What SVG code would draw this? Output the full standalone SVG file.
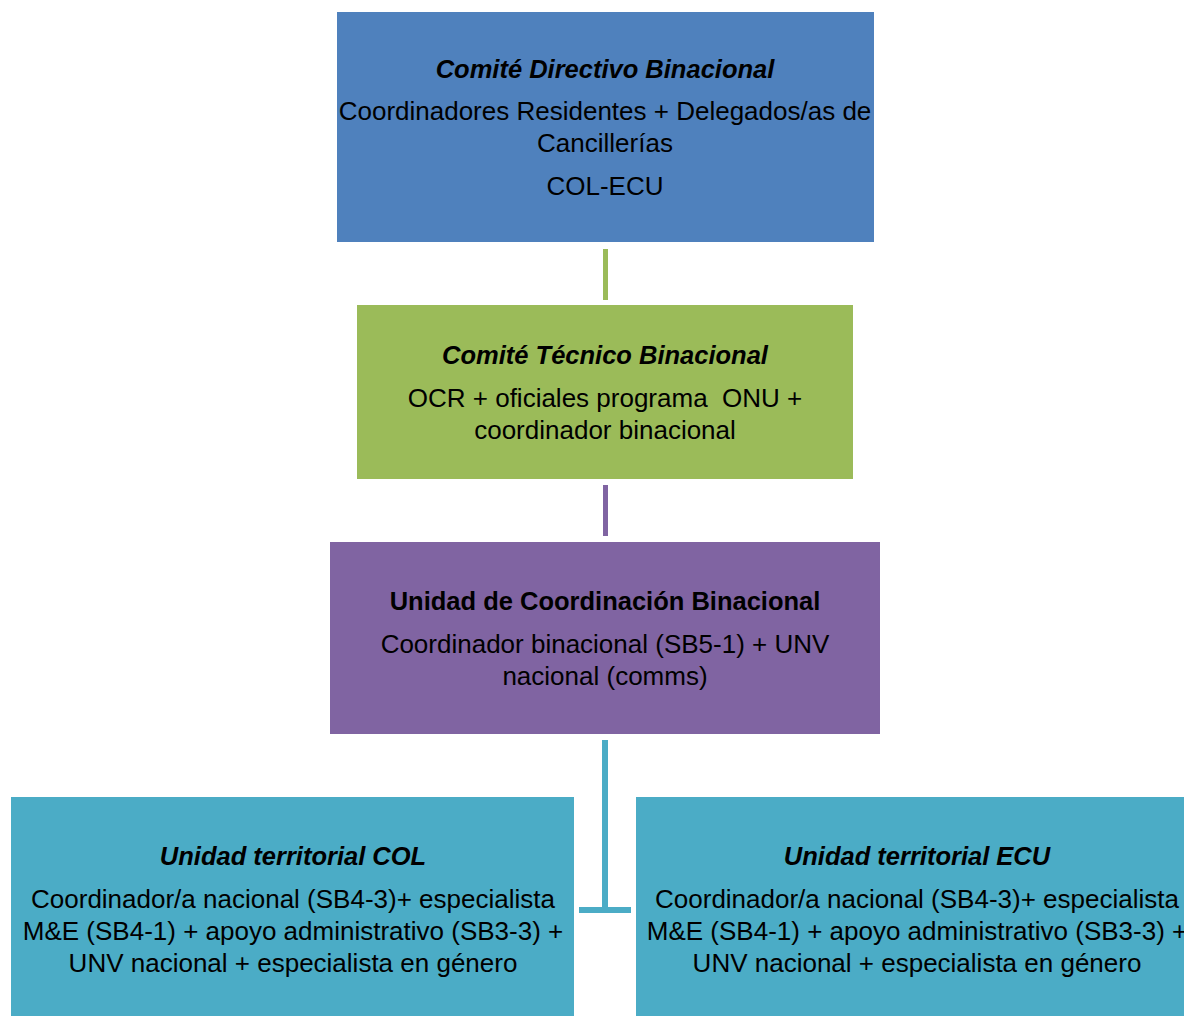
<svg xmlns="http://www.w3.org/2000/svg" width="1184" height="1016" viewBox="0 0 1184 1016">
<style>
text{font-family:"Liberation Sans",Arial,sans-serif;font-size:26px;fill:#000;text-anchor:middle}
.t{font-weight:bold;font-style:italic;font-size:25.5px}
.b{font-weight:bold;font-size:25.5px}
</style>
<rect width="1184" height="1016" fill="#fff"/>
<g id="connectors">
<rect x="603" y="249" width="5" height="51" fill="#9BBB59"/>
<rect x="603" y="485" width="5" height="51" fill="#8064A2"/>
<rect x="602" y="740" width="6" height="172" fill="#4BACC6"/>
<rect x="579" y="907" width="52" height="6" fill="#4BACC6"/>
</g>
<g id="n1">
<rect x="337" y="12" width="537" height="230" fill="#4F81BD"/>
<text x="605" y="78" class="t">Comité Directivo Binacional</text>
<text x="605" y="120">Coordinadores Residentes + Delegados/as de</text>
<text x="605" y="152">Cancillerías</text>
<text x="605" y="195">COL-ECU</text>
</g>
<g id="n2">
<rect x="357" y="305" width="496" height="174" fill="#9BBB59"/>
<text x="605" y="364" class="t">Comité Técnico Binacional</text>
<text x="605" y="407" xml:space="preserve">OCR + oficiales programa  ONU +</text>
<text x="605" y="439">coordinador binacional</text>
</g>
<g id="n3">
<rect x="330" y="542" width="550" height="192" fill="#8064A2"/>
<text x="605" y="610" class="b">Unidad de Coordinación Binacional</text>
<text x="605" y="653">Coordinador binacional (SB5-1) + UNV</text>
<text x="605" y="685">nacional (comms)</text>
</g>
<g id="n4">
<rect x="11" y="797" width="563" height="219" fill="#4BACC6"/>
<text x="293" y="865" class="t">Unidad territorial COL</text>
<text x="293" y="908">Coordinador/a nacional (SB4-3)+ especialista</text>
<text x="293" y="940">M&amp;E (SB4-1) + apoyo administrativo (SB3-3) +</text>
<text x="293" y="972">UNV nacional + especialista en género</text>
</g>
<g id="n5">
<rect x="636" y="797" width="563" height="219" fill="#4BACC6"/>
<text x="917" y="865" class="t">Unidad territorial ECU</text>
<text x="917" y="908">Coordinador/a nacional (SB4-3)+ especialista</text>
<text x="917" y="940">M&amp;E (SB4-1) + apoyo administrativo (SB3-3) +</text>
<text x="917" y="972">UNV nacional + especialista en género</text>
</g>
</svg>
